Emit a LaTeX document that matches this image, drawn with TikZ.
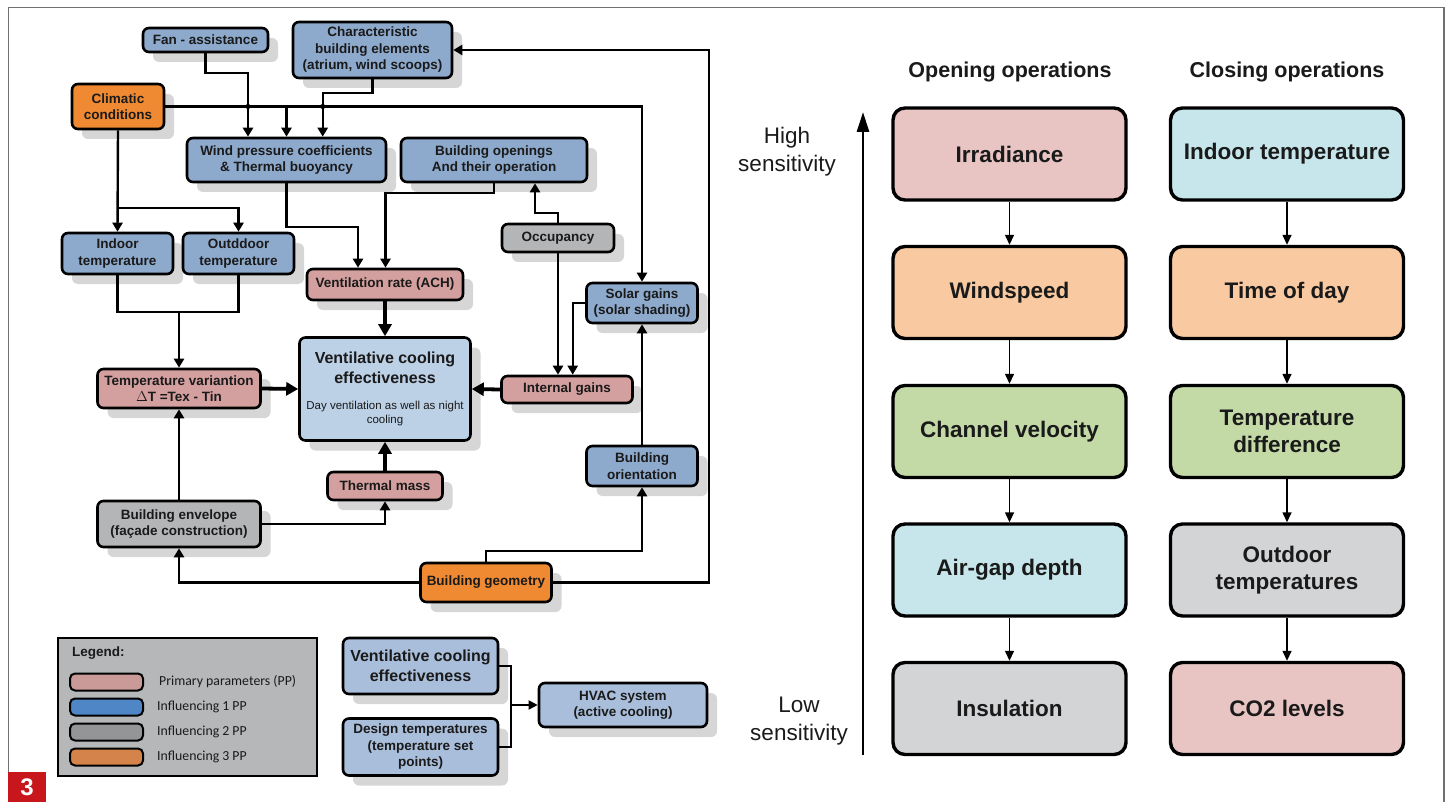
\documentclass[tikz,border=0pt]{standalone}
\usepackage{fontspec}
\setmainfont{Liberation Sans}
\newfontfamily\legfont{Carlito}
\usetikzlibrary{arrows.meta,shadows}
\definecolor{nblue}{HTML}{8DA9CC}
\definecolor{npink}{HTML}{D4A09F}
\definecolor{ngray}{HTML}{B3B5B7}
\definecolor{norange}{HTML}{F08A32}
\definecolor{ncenter}{HTML}{BCD0E6}
\definecolor{nlight}{HTML}{A9BEDA}
\definecolor{shadowc}{HTML}{D6D6D6}
\definecolor{legfill}{HTML}{B5B7B9}
\definecolor{lpink}{HTML}{C99A98}
\definecolor{lblue}{HTML}{4F86C6}
\definecolor{lgray}{HTML}{939597}
\definecolor{lorange}{HTML}{D4844A}
\definecolor{rpink}{HTML}{E8C5C3}
\definecolor{rorange}{HTML}{F9C9A1}
\definecolor{rgreen}{HTML}{C3D9A6}
\definecolor{rlblue}{HTML}{C6E6EB}
\definecolor{rgray}{HTML}{D3D4D6}
\definecolor{framec}{HTML}{707070}
\definecolor{numred}{HTML}{C8161D}
\definecolor{ink}{HTML}{1A1A1A}
\begin{document}
\begin{tikzpicture}[x=1pt,y=-1pt,
 box/.style={draw=black,line width=2.6pt,rounded corners=6pt,align=center,inner sep=0pt,text=ink,
   font=\bfseries\fontsize{13.5}{16.5}\selectfont,
   general shadow={fill=shadowc,shadow xshift=10pt,shadow yshift=-10pt}},
 sz/.style 2 args={minimum width=#1pt,minimum height=#2pt},
 conn/.style={line width=2.4pt,draw=black},
 arr/.style={conn,-{Triangle[length=9pt,width=10pt]}},
 tarr/.style={draw=black,line width=3.8pt,-{Triangle[length=12pt,width=13pt]}},
 rbox/.style={draw=black,line width=3.4pt,rounded corners=12pt,minimum width=233pt,minimum height=92pt,
   align=center,inner sep=0pt,font=\bfseries\fontsize{22.5}{27}\selectfont,text=ink},
 rarr/.style={draw=black,line width=1.4pt,-{Triangle[length=10pt,width=9pt]}},
 swatch/.style={draw=black,line width=2pt,rounded corners=5pt,minimum width=73pt,minimum height=17pt,inner sep=0pt},
 legtext/.style={anchor=west,font=\legfont\fontsize{13.8}{16}\selectfont,text=ink,inner sep=0pt},
 sidetext/.style={align=center,font=\fontsize{22.5}{28}\selectfont,text=ink,inner sep=0pt}
]
\useasboundingbox (0,0) rectangle (1450,802);
% frame
\draw[framec,line width=1.5pt] (8.3,802) -- (8.3,7.3) -- (1444,7.3) -- (1444,802);
\node[fill=numred,text=white,font=\bfseries\fontsize{24}{24}\selectfont,minimum width=38pt,minimum height=31pt,inner sep=0pt] (num) at (27,787) {3};

% ---------- left diagram nodes ----------
\node[box,fill=nblue,sz={125}{24}] (fan) at (205.5,40) {Fan - assistance};
\node[box,fill=nblue,sz={159}{56}] (chars) at (372.5,50) {Characteristic\\building elements\\(atrium, wind scoops)};
\node[box,fill=norange,sz={92}{45}] (clim) at (118,106.5) {Climatic\\conditions};
\node[box,fill=nblue,sz={199}{44}] (wind) at (286.5,160) {Wind pressure coefficients\\\& Thermal buoyancy};
\node[box,fill=nblue,sz={186}{44}] (open) at (494,160) {Building openings\\And their operation};
\node[box,fill=nblue,sz={111}{41}] (indoor) at (117.5,253.5) {Indoor\\temperature};
\node[box,fill=nblue,sz={111}{41}] (outdoor) at (238.5,253.5) {Outddoor\\temperature};
\node[box,fill=ngray,sz={112}{28}] (occ) at (558,238) {Occupancy};
\node[box,fill=npink,sz={156}{31}] (vrate) at (385,284.5) {Ventilation rate (ACH)};
\node[box,fill=nblue,sz={111}{40}] (solar) at (642,303) {Solar gains\\(solar shading)};
\node[box,fill=ncenter,sz={171}{103}] (vce) at (385,389) {};
\node[align=center,inner sep=0pt,text=ink,font=\bfseries\fontsize{16}{19.5}\selectfont] (vcetitle) at (385,368) {Ventilative cooling\\effectiveness};
\node[align=center,inner sep=0pt,text=ink,font=\fontsize{11.5}{14}\selectfont] (vcesub) at (385,414) {Day ventilation as well as night\\cooling};
\node[box,fill=npink,sz={131}{27}] (intg) at (567,389.5) {Internal gains};
\node[box,fill=npink,sz={163}{39}] (tvar) at (179,388.5) {Temperature variantion\\$\Delta$T =Tex - Tin};
\node[box,fill=nblue,sz={111}{40}] (orient) at (642,466) {Building\\orientation};
\node[box,fill=npink,sz={115}{28}] (tmass) at (385,486) {Thermal mass};
\node[box,fill=ngray,sz={163}{46}] (env) at (179,524) {Building envelope\\(façade construction)};
\node[box,fill=norange,sz={131}{39}] (geom) at (486,582.5) {Building geometry};

% ---------- left diagram connectors ----------
\draw[arr] (fan.south) |- (248,73) -- ([xshift=-38.5pt]wind.north);
\draw[arr] (chars.south) |- (322.7,93) -- ([xshift=36.2pt]wind.north);
\draw[arr] (clim.east) -| (solar.north);
\coordinate (climmid) at (286.5,106.5);
\draw[arr] (climmid) -- (wind.north);
\fill (248,106.5) circle (2.6pt);
\fill (322.7,106.5) circle (2.6pt);
\draw[arr] (wind.south) |- (358,227) -- ([xshift=-27pt]vrate.north);
\draw[arr] (open.south) |- (385.5,193) -- ([xshift=0.5pt]vrate.north);
\draw[arr] (occ.north) |- (535,213) -- ([xshift=41pt]open.south);
\draw[arr] (occ.south) -- ([xshift=-9pt]intg.north);
\draw[arr] (solar.west) -| ([xshift=5.7pt]intg.north);
\draw[tarr] (intg.west) -- (vce.east);
\draw[tarr] (vrate.south) -- (vce.north);
\draw[tarr] (tvar.east) -- (vce.west);
\draw[tarr] (tmass.north) -- (vce.south);
\draw[arr] (orient.north) -- (solar.south);
\draw[arr] (geom.north) -- (486,551) -| (orient.south);
\draw[arr] (geom.west) -| (env.south);
\draw[arr] (env.east) -| (tmass.south);
\draw[arr] (env.north) -- (tvar.south);
\draw[arr] (geom.east) -- (709,582.5) |- (chars.east);
\draw[arr] (clim.south) -- (indoor.north);
\draw[arr] (118,208) -| (outdoor.north);
\draw[conn] (indoor.south) |- (238.5,312) -- (outdoor.south);
\draw[arr] (179,312) -- (tvar.north);

% ---------- legend ----------
\draw[black,line width=2pt,fill=legfill] (58,638) rectangle (317,776);
\node[anchor=west,inner sep=0pt,text=ink,font=\bfseries\fontsize{13.5}{15}\selectfont] (legtitle) at (72,653) {Legend:};
\node[swatch,fill=lpink] (sw1) at (106.5,682) {};
\node[swatch,fill=lblue] (sw2) at (106.5,707) {};
\node[swatch,fill=lgray] (sw3) at (106.5,732) {};
\node[swatch,fill=lorange] (sw4) at (106.5,757) {};
\node[legtext] (lt1) at (159,682) {Primary parameters (PP)};
\node[legtext] (lt2) at (157,707) {Influencing 1 PP};
\node[legtext] (lt3) at (157,732) {Influencing 2 PP};
\node[legtext] (lt4) at (157,757) {Influencing 3 PP};

% ---------- HVAC part ----------
\node[box,fill=nlight,sz={155}{56},font=\bfseries\fontsize{16}{19.5}\selectfont] (vce2) at (420.5,666) {Ventilative cooling\\effectiveness};
\node[box,fill=nlight,sz={155}{57}] (design) at (420.5,747) {Design temperatures\\(temperature set\\points)};
\node[box,fill=nlight,sz={168}{44}] (hvac) at (623,705) {HVAC system\\(active cooling)};
\draw[line width=1.8pt] (vce2.east) -| (511,747) -- (design.east);
\draw[line width=1.8pt,-{Triangle[length=9pt,width=9pt]}] (511,705) -- (hvac.west);

% ---------- right side ----------
\node[font=\bfseries\fontsize{21.5}{26}\selectfont,text=ink,inner sep=0pt] (titop) at (1010,72) {Opening operations};
\node[font=\bfseries\fontsize{21.5}{26}\selectfont,text=ink,inner sep=0pt] (ticl) at (1287,72) {Closing operations};

\node[rbox,fill=rpink] (o1) at (1009.5,154) {Irradiance};
\node[rbox,fill=rorange] (o2) at (1009.5,292.5) {Windspeed};
\node[rbox,fill=rgreen] (o3) at (1009.5,431.5) {Channel velocity};
\node[rbox,fill=rlblue] (o4) at (1009.5,570) {Air-gap depth};
\node[rbox,fill=rgray] (o5) at (1009.5,708.5) {Insulation};

\node[rbox,fill=rlblue] (c1) at (1287,154) {Indoor temperature};
\node[rbox,fill=rorange] (c2) at (1287,292.5) {Time of day};
\node[rbox,fill=rgreen] (c3) at (1287,431.5) {Temperature\\difference};
\node[rbox,fill=rgray] (c4) at (1287,570) {Outdoor\\temperatures};
\node[rbox,fill=rpink] (c5) at (1287,708.5) {CO2 levels};

\draw[rarr] (o1.south) -- (o2.north);
\draw[rarr] (o2.south) -- (o3.north);
\draw[rarr] (o3.south) -- (o4.north);
\draw[rarr] (o4.south) -- (o5.north);
\draw[rarr] (c1.south) -- (c2.north);
\draw[rarr] (c2.south) -- (c3.north);
\draw[rarr] (c3.south) -- (c4.north);
\draw[rarr] (c4.south) -- (c5.north);

\coordinate (sbot) at (863,755);
\coordinate (stop) at (863,112);
\draw[line width=2.8pt,-{Triangle[length=20pt,width=12pt]}] (sbot) -- (stop);
\node[sidetext] (high) at (787,152) {High\\sensitivity};
\node[sidetext] (low) at (799,721) {Low\\sensitivity};
\end{tikzpicture}
\end{document}
